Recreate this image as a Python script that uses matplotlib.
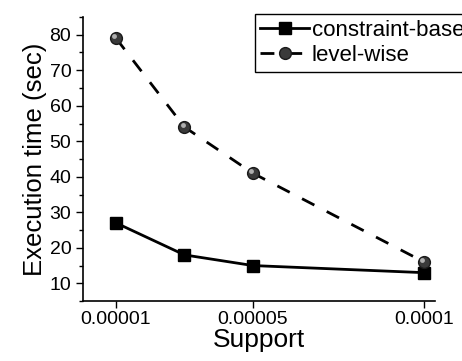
import matplotlib
matplotlib.use("Agg")
import matplotlib.pyplot as plt
import matplotlib.transforms as mtransforms
from matplotlib.ticker import MultipleLocator

plt.rcParams['font.family'] = ['Liberation Sans', 'DejaVu Sans']

support = [0.00001, 0.00003, 0.00005, 0.0001]
constraint_based = [27, 18, 15, 13]
level_wise = [79, 54, 41, 16]
xticks = [0.00001, 0.00005, 0.0001]
xticklabels = ['0.00001', '0.00005', '0.0001']
yticks = [10, 20, 30, 40, 50, 60, 70, 80]

fig = plt.figure(figsize=(4.62, 3.61), dpi=100)
ax = fig.add_axes([0.18, 0.166, 0.7616, 0.787])

ax.plot(support, constraint_based, '-', color='black', lw=2.0,
        marker='s', markersize=8.5, markerfacecolor='black',
        markeredgecolor='black', label='constraint-based', zorder=3)
ax.plot(support, level_wise, color='black', lw=2.0, linestyle=(0, (5, 5)),
        marker='o', markersize=8.5, markerfacecolor='#3a3a3a',
        markeredgecolor='#1a1a1a', label='level-wise', zorder=3)
# sphere highlight
off = mtransforms.offset_copy(ax.transData, fig=fig, x=-1.3, y=1.3, units='points')
ax.plot(support, level_wise, linestyle='none', marker='o', markersize=3.5,
        markerfacecolor='#b0b0b0', markeredgecolor='none', transform=off, zorder=4)

ax.set_xlim(0.0000004, 0.0001032)
ax.set_ylim(5, 85)
ax.set_xticks(xticks)
ax.set_xticklabels(xticklabels)
ax.set_yticks(yticks)
ax.yaxis.set_minor_locator(MultipleLocator(5))
ax.tick_params(axis='both', which='major', labelsize=14, length=5, width=1, direction='out')
ax.tick_params(axis='y', which='minor', length=3, width=1)
ax.tick_params(axis='x', which='both', pad=2)
for s in ['top', 'right']:
    ax.spines[s].set_visible(False)
for s in ['left', 'bottom']:
    ax.spines[s].set_linewidth(1.2)

ax.set_xlabel('Support', fontsize=19, labelpad=0)
ax.set_ylabel('Execution time (sec)', fontsize=18.5, labelpad=2)

leg = ax.legend(loc='upper left', bbox_to_anchor=(0.488, 1.0 + 3/284), fontsize=16,
                frameon=True, fancybox=False, edgecolor='black', framealpha=1,
                handlelength=2.2, handletextpad=0.1, borderpad=0.25,
                labelspacing=0.2, borderaxespad=0)
leg.get_frame().set_linewidth(1.0)

fig.savefig('out.png', dpi=100)
